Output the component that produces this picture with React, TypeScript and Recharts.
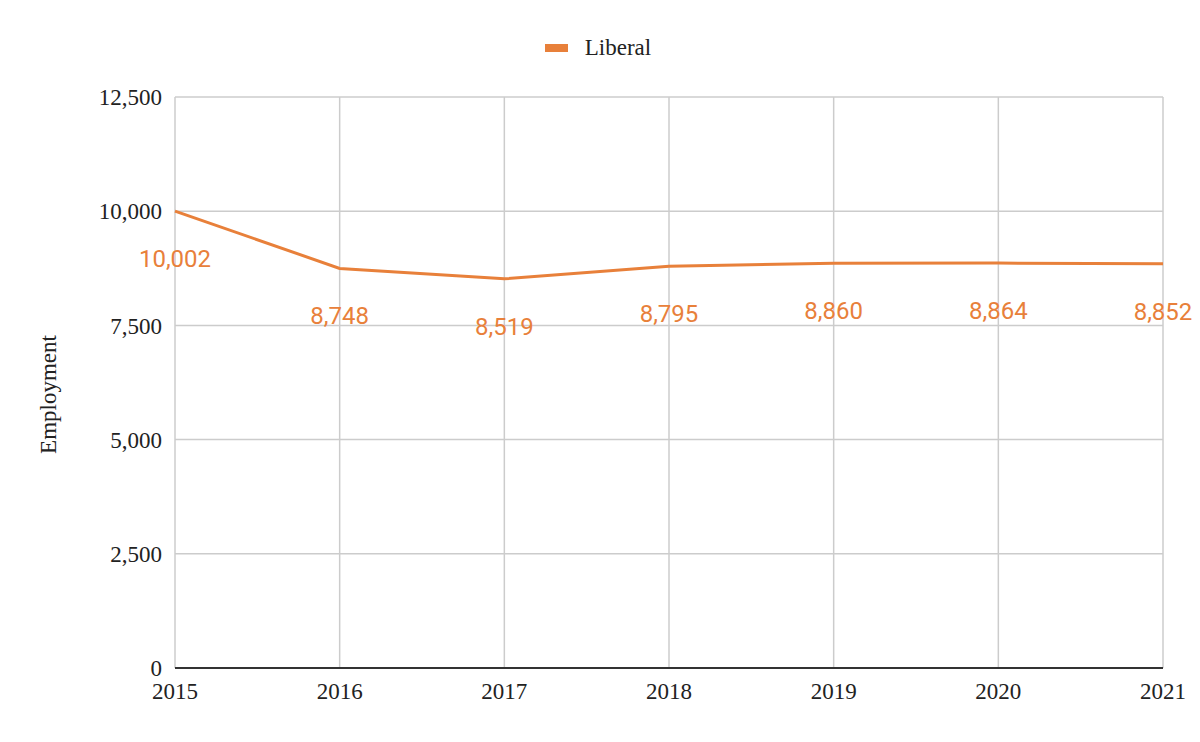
import { LineChart, Line, XAxis, YAxis, CartesianGrid, LabelList, Legend } from 'recharts';

// Employment by year
const YEARS = ['2015', '2016', '2017', '2018', '2019', '2020', '2021'];
const LIBERAL = [10002, 8748, 8519, 8795, 8860, 8864, 8852];
const Y_TICKS = [0, 2500, 5000, 7500, 10000, 12500];

const ORANGE = '#e8803a';
const SERIF = '"Liberation Serif", "Times New Roman", serif';

const data = YEARS.map((year, i) => ({ year, liberal: LIBERAL[i] }));

const fmt = (v: number) => v.toLocaleString('en-US');

const ValueLabel = (props: any) => {
  const { x, y, value } = props;
  return (
    <text x={x} y={y + 56} textAnchor="middle" fill={ORANGE} fontFamily="Roboto, sans-serif" fontSize={24}>
      {fmt(value)}
    </text>
  );
};

const LegendContent = () => (
  <div style={{ display: 'flex', justifyContent: 'center', alignItems: 'center', height: 26, fontFamily: SERIF, fontSize: 23, color: '#222' }}>
    <span style={{ display: 'inline-block', width: 23, height: 8, background: ORANGE, marginRight: 17, marginLeft: -4 }} />
    <span>Liberal</span>
  </div>
);

const YLabel = (props: any) => {
  const { viewBox } = props;
  const cx = 48;
  const cy = viewBox.y + viewBox.height / 2 + 12;
  return (
    <text x={cx} y={cy} transform={`rotate(-90 ${cx} ${cy})`} textAnchor="middle" dominantBaseline="central" fontFamily={SERIF} fontSize={23} fill="#222">
      Employment
    </text>
  );
};

export default function App() {
  return (
    <div style={{ position: 'absolute', left: 0, top: 0, width: 1200, height: 742, background: '#fff' }}>
      <LineChart width={1200} height={742} data={data} margin={{ top: 71, right: 37, bottom: 44, left: 75 }}>
        <CartesianGrid stroke="#cccccc" strokeWidth={1.5} />
        <XAxis
          dataKey="year"
          tickLine={false}
          tickSize={0}
          tickMargin={15}
          height={30}
          interval={0}
          stroke="#333"
          strokeWidth={2}
          tick={{ fontFamily: SERIF, fontSize: 23, fill: '#222' }}
        />
        <YAxis
          width={100}
          domain={[0, 12500]}
          ticks={Y_TICKS}
          tickFormatter={fmt}
          axisLine={false}
          tickLine={false}
          tickSize={0}
          tickMargin={13}
          tick={{ fontFamily: SERIF, fontSize: 23, fill: '#222' }}
          label={<YLabel />}
        />
        <Legend verticalAlign="top" content={<LegendContent />} wrapperStyle={{ top: 35, left: 0, width: 1200 }} />
        <Line type="linear" dataKey="liberal" name="Liberal" stroke={ORANGE} strokeWidth={3} dot={false} isAnimationActive={false}>
          <LabelList dataKey="liberal" content={<ValueLabel />} />
        </Line>
      </LineChart>
    </div>
  );
}
